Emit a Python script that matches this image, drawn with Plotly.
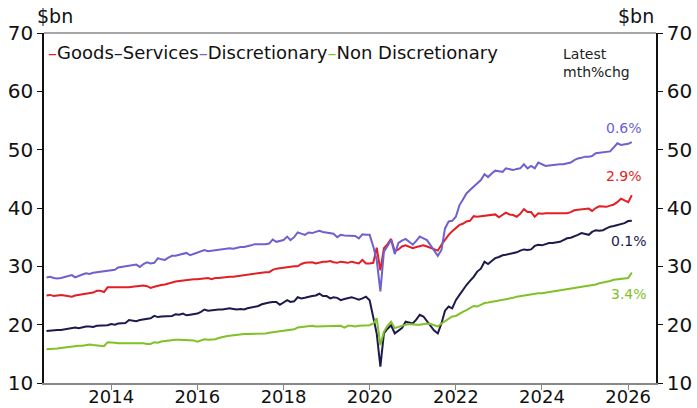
import plotly.graph_objects as go
import pandas as pd

dates = pd.date_range("2012-07-01", "2026-02-01", freq="MS")

goods = [
    25.0, 25.1, 24.9, 25.0, 25.1, 25.0,
    24.9, 24.8, 25.0, 25.1, 25.2, 25.3, 25.4, 25.5, 25.8, 25.8, 25.6, 26.4,
    26.4, 26.4, 26.4, 26.3, 26.4, 26.4, 26.5, 26.6, 26.6, 26.7, 26.6, 26.3,
    26.5, 26.7, 26.8, 26.9, 27.1, 27.2, 27.4, 27.5, 27.6, 27.7, 27.7, 27.8,
    27.8, 27.9, 27.9, 28.0, 27.8, 28.0, 28.0, 28.1, 28.1, 28.2, 28.2, 28.3,
    28.4, 28.5, 28.6, 28.7, 28.7, 28.8, 28.9, 29.0, 29.0, 29.4, 29.6, 29.7,
    29.7, 29.8, 29.9, 30.0, 30.0, 30.4, 30.6, 30.6, 30.7, 30.5, 30.7, 30.8,
    30.8, 30.9, 30.7, 30.6, 30.8, 30.7, 30.6, 30.8, 30.6, 30.5, 31.1, 30.5,
    30.5, 30.6, 33.2, 29.3, 33.1, 33.8, 34.7, 32.6, 32.9, 33.4, 33.6, 33.3,
    33.1, 33.3, 33.5, 33.6, 33.4, 33.2, 32.9, 32.7, 33.7, 34.6, 35.4, 36.0,
    36.6, 37.1, 37.3, 37.7, 37.8, 38.6, 38.5, 38.6, 38.7, 38.7, 38.8, 38.9,
    38.4, 38.8, 39.2, 38.9, 38.8, 38.5, 39.0, 39.8, 39.3, 39.3, 38.5, 39.1,
    39.0, 39.1, 39.1, 39.2, 39.1, 39.1, 39.2, 39.1, 39.3, 39.6, 39.7, 39.8,
    39.8, 39.9, 39.5, 40.0, 40.3, 40.3, 40.2, 40.4, 40.6, 41.0, 41.6, 41.3,
    41.0, 42.2,
]

services = [
    18.9, 19.0, 19.0, 19.1, 19.1, 19.2,
    19.3, 19.3, 19.5, 19.4, 19.6, 19.7, 19.7, 19.6, 19.8, 19.8, 19.9, 19.9,
    20.1, 20.0, 20.2, 20.2, 20.3, 20.8, 20.7, 20.6, 20.8, 20.9, 20.9, 21.1,
    21.5, 21.3, 21.4, 21.4, 21.5, 21.5, 21.8, 21.7, 21.9, 21.6, 21.7, 21.8,
    21.9, 22.2, 22.6, 22.4, 22.5, 22.5, 22.6, 22.6, 22.7, 22.8, 22.7, 22.6,
    22.7, 22.6, 22.8, 22.9, 23.1, 23.2, 23.5, 23.7, 23.8, 23.9, 23.9, 23.4,
    23.8, 24.2, 23.9, 24.0, 24.7, 24.5, 24.6, 24.8, 24.9, 25.0, 25.3, 24.9,
    24.9, 24.5, 24.7, 24.6, 24.2, 24.4, 24.5, 24.7, 24.5, 24.3, 24.5, 24.8,
    24.2, 21.4, 18.5, 12.8, 18.5, 19.3, 19.9, 18.5, 19.0, 19.4, 20.5, 20.4,
    20.2, 20.9, 21.7, 21.4, 20.6, 19.9, 19.0, 18.5, 20.2, 22.4, 23.1, 22.8,
    24.2, 25.1, 26.0, 26.8, 27.5, 28.2, 29.1, 29.6, 30.8, 30.4, 30.9, 31.4,
    31.6, 31.9, 32.0, 32.1, 32.2, 32.4, 32.7, 32.9, 32.8, 32.9, 33.5, 33.7,
    33.6, 33.8, 34.0, 34.0, 34.1, 34.2, 34.5, 34.8, 34.9, 35.1, 35.4, 35.7,
    35.6, 35.4, 35.9, 36.2, 36.1, 36.2, 36.5, 36.8, 36.9, 37.1, 37.3, 37.4,
    37.76, 37.8,
]

discretionary = [
    28.1, 28.2, 28.0, 27.9, 28.0, 28.2,
    28.4, 28.5, 28.1, 28.4, 28.6, 28.8, 28.7, 28.9, 29.0, 29.1, 29.1, 29.2,
    29.3, 29.4, 29.8, 29.9, 29.9, 30.0, 30.1, 30.3, 29.9, 30.4, 30.7, 30.5,
    30.6, 31.4, 31.2, 31.1, 31.5, 31.8, 31.8, 32.0, 32.2, 32.3, 31.9, 32.1,
    32.3, 32.6, 32.8, 32.6, 32.7, 32.8, 32.9, 33.0, 33.1, 33.1, 33.0, 33.2,
    33.3, 33.3, 33.4, 33.6, 33.8, 33.8, 33.7, 33.8, 33.9, 34.6, 34.2, 34.4,
    34.5, 35.1, 34.5, 35.0, 35.8, 35.6, 35.4, 35.8, 35.7, 35.9, 36.1, 35.9,
    35.8, 35.7, 35.6, 35.0, 35.4, 35.3, 35.3, 35.3, 35.2, 34.8, 35.5, 35.4,
    35.4, 33.4, 31.1, 25.7, 32.5, 33.5, 34.5, 32.1, 34.0, 34.4, 34.7, 34.2,
    33.7, 34.4, 35.1, 34.8, 34.5, 33.6, 32.6, 31.8, 32.8, 36.5, 37.7, 37.8,
    38.5, 40.5, 41.4, 42.5, 43.1, 43.7, 44.3, 44.8, 45.8, 45.3, 45.9, 46.4,
    46.3, 46.2, 46.8, 46.6, 46.5, 46.7, 46.8, 47.5, 46.8, 47.2, 46.8, 47.8,
    47.5, 47.2, 47.3, 47.4, 47.4, 47.5, 47.5, 47.6, 47.8, 48.2, 48.5, 48.6,
    48.8, 48.8, 48.9, 49.4, 49.5, 49.6, 49.6, 49.7, 50.4, 51.1, 50.8, 50.9,
    51.0, 51.3,
]

non_discretionary = [
    15.8, 15.8, 15.9, 15.9, 16.0, 16.1,
    16.2, 16.2, 16.3, 16.4, 16.4, 16.5, 16.6, 16.5, 16.4, 16.4, 16.3, 17.0,
    17.0, 16.9, 16.8, 16.8, 16.9, 16.9, 16.9, 16.9, 16.9, 16.8, 16.7, 16.7,
    17.0, 16.9, 17.1, 17.2, 17.3, 17.3, 17.4, 17.4, 17.4, 17.4, 17.4, 17.3,
    17.1, 17.3, 17.5, 17.4, 17.4, 17.5, 17.7, 17.9, 18.0, 18.1, 18.2, 18.3,
    18.4, 18.4, 18.4, 18.4, 18.5, 18.5, 18.5, 18.5, 18.6, 18.7, 18.8, 18.8,
    18.9, 19.0, 19.1, 19.2, 19.5, 19.6, 19.7, 19.8, 19.8, 19.7, 19.7, 19.7,
    19.7, 19.7, 19.8, 19.8, 19.8, 19.5, 19.8, 19.8, 19.7, 19.8, 19.8, 19.9,
    19.9, 20.2, 21.1, 16.5, 18.8, 19.8, 20.5, 19.4, 19.6, 19.9, 20.0, 20.1,
    20.0, 20.0, 20.0, 20.1, 20.2, 20.1, 19.9, 19.7, 20.2, 20.6, 21.1, 21.4,
    21.5, 21.9, 22.2, 22.5, 22.8, 23.2, 23.1, 23.4, 23.7, 23.8, 23.9, 24.0,
    24.2, 24.3, 24.4, 24.5, 24.6, 24.8, 24.9, 25.0, 25.2, 25.2, 25.3, 25.4,
    25.4, 25.5, 25.6, 25.7, 25.8, 25.9, 26.0, 26.1, 26.2, 26.3, 26.4, 26.4,
    26.6, 26.7, 26.8, 26.9, 27.1, 27.2, 27.3, 27.5, 27.7, 27.8, 27.9, 28.0,
    28.0, 28.95,
]

series_names = ["Goods", "Services", "Discretionary", "Non Discretionary"]
series_values = [goods, services, discretionary, non_discretionary]
series_colors = ["#e31e24", "#1c1a4c", "#6d61cf", "#80c127"]
latest_labels = ["2.9%", "0.1%", "0.6%", "3.4%"]
year_ticks = [str(y) for y in range(2014, 2027, 2)]
y_ticks = [10, 20, 30, 40, 50, 60, 70]

FONT = "DejaVu Sans"

fig = go.Figure()
for name, vals, col in zip(series_names, series_values, series_colors):
    fig.add_trace(go.Scatter(x=dates, y=vals, mode="lines", name=name,
                             line=dict(color=col, width=2), showlegend=False))
# invisible trace to activate right axis
fig.add_trace(go.Scatter(x=[dates[0]], y=[goods[0]], yaxis="y2", mode="lines",
                         line=dict(width=0), showlegend=False, hoverinfo="skip"))

tick_font = dict(family=FONT, size=20, color="#111")
fig.update_layout(
    width=697, height=408,
    margin=dict(l=44, r=41, t=33, b=25),
    paper_bgcolor="white", plot_bgcolor="white",
    font=dict(family=FONT, color="#111"),
    xaxis=dict(range=["2012-06-10", "2026-08-25"], type="date",
               tickvals=[f"{y}-01-01" for y in year_ticks], ticktext=year_ticks,
               showgrid=False, zeroline=False, automargin=False,
               showline=True, linecolor="#888", linewidth=1.5, mirror=False,
               ticks="outside", ticklen=5, tickcolor="#888",
               ticklabelstandoff=-8,
               tickfont=dict(family=FONT, size=18, color="#111")),
    yaxis=dict(range=[10, 70], tickvals=y_ticks, showgrid=False, zeroline=False,
               automargin=False,
               showline=True, linecolor="#111", linewidth=1.5,
               ticks="outside", ticklen=5, tickcolor="#111", tickfont=tick_font),
    yaxis2=dict(range=[10, 70], tickvals=y_ticks, overlaying="y", side="right",
                showgrid=False, zeroline=False, automargin=False,
                showline=True, linecolor="#111", linewidth=1.5,
                ticks="outside", ticklen=5, tickcolor="#111", tickfont=tick_font),
    shapes=[dict(type="line", xref="paper", yref="paper", x0=0, x1=1, y0=1, y1=1,
                 line=dict(color="#888", width=1.5))],
)

legend_html = "".join(
    f"<span style='color:{c}'>–</span>{n}" for n, c in zip(series_names, series_colors)
)
annotations = [
    dict(text="$bn", xref="paper", yref="paper", x=-0.015, y=1.0, yshift=4,
         xanchor="left", yanchor="bottom", showarrow=False,
         font=dict(family=FONT, size=19, color="#111")),
    dict(text="$bn", xref="paper", yref="paper", x=1.0, y=1.0, yshift=4,
         xanchor="right", yanchor="bottom", showarrow=False,
         font=dict(family=FONT, size=19, color="#111")),
    dict(text=legend_html, xref="paper", yref="paper", x=0.003, y=0.98,
         xanchor="left", yanchor="top", showarrow=False,
         font=dict(family=FONT, size=18, color="#111")),
    dict(text="Latest<br>mth%chg", xref="paper", yref="paper", x=0.845, y=0.97,
         xanchor="left", yanchor="top", showarrow=False, align="left",
         font=dict(family=FONT, size=14, color="#222")),
]
label_offsets = {"Goods": 3.3, "Services": -3.5, "Discretionary": 2.4, "Non Discretionary": -3.65}
for name, vals, col, lab in zip(series_names, series_values, series_colors, latest_labels):
    annotations.append(dict(text=lab, x=dates[-1], y=vals[-1] + label_offsets[name],
                            xref="x", yref="y", xanchor="center", yanchor="middle",
                            showarrow=False, xshift=-8 if name in ("Goods", "Discretionary") else -3,
                            font=dict(family=FONT, size=14, color=col)))
fig.update_layout(annotations=annotations)

fig.write_html("out.html")
